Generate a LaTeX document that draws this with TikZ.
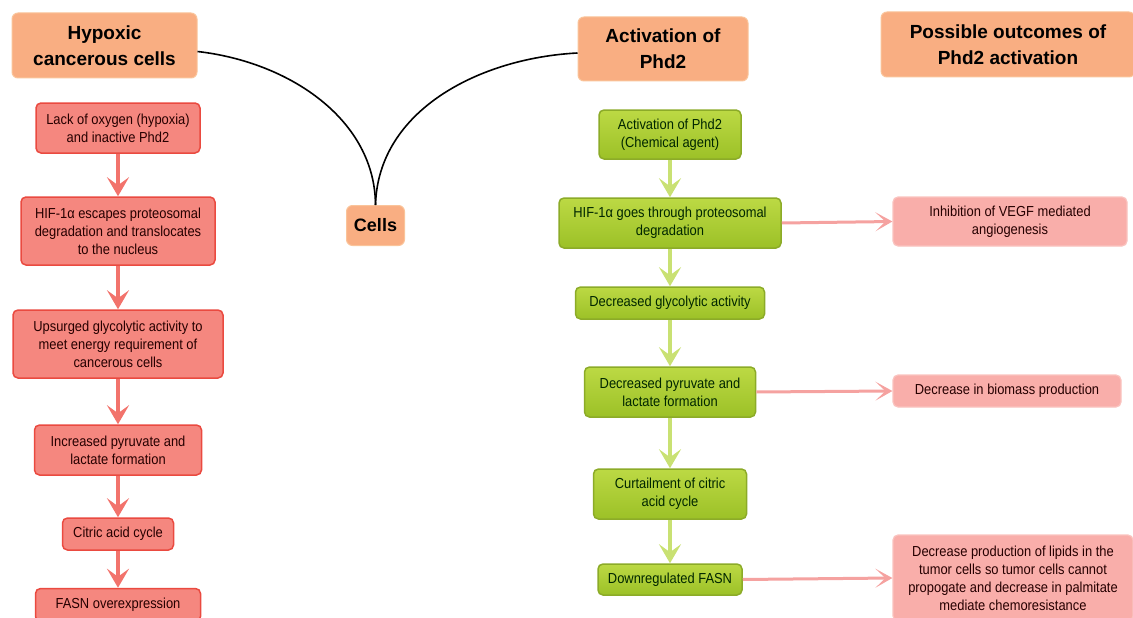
\documentclass[tikz,border=0pt]{standalone}
\usepackage{fontspec}
\setmainfont{Liberation Sans}
\newfontfamily\narrowsans{Liberation Sans}[FakeStretch=0.89]
\usetikzlibrary{arrows.meta}

\definecolor{headfill}{HTML}{F9AE82}
\definecolor{headline}{HTML}{FAC49A}
\definecolor{hypofill}{HTML}{F5877F}
\definecolor{hypoline}{HTML}{EA4A40}
\definecolor{hypoarrow}{HTML}{F2736C}
\definecolor{phdtop}{HTML}{BCD944}
\definecolor{phdbot}{HTML}{9CC127}
\definecolor{phdline}{HTML}{8CAB28}
\definecolor{phdarrow}{HTML}{C9E173}
\definecolor{outfill}{HTML}{F9AEAA}
\definecolor{outline}{HTML}{FAC3BF}
\definecolor{outarrow}{HTML}{F5A2A0}

\begin{document}
\begin{tikzpicture}[x=1pt, y=-1pt,
    every node/.style={align=center, inner sep=2pt},
    heading/.style={draw=headline, fill=headfill, rounded corners=6pt, line width=1pt,
        font=\fontsize{19}{26}\selectfont\bfseries},
    hypoxbox/.style={draw=hypoline, fill=hypofill, rounded corners=5pt, line width=1.5pt,
        text=black!85!red, font=\narrowsans\fontsize{14.5}{18}\selectfont},
    phdbox/.style={draw=phdline, top color=phdtop, bottom color=phdbot, rounded corners=5pt,
        line width=1.5pt, text=black!85!green, font=\narrowsans\fontsize{14.5}{18}\selectfont},
    outcome/.style={draw=outline, fill=outfill, rounded corners=5pt, line width=1.2pt,
        text=black!85!red, font=\narrowsans\fontsize{14.5}{18}\selectfont},
    hypoflow/.style={draw=hypoarrow, line width=4pt, -{Stealth[length=19pt, width=22pt, inset=8pt]}},
    phdflow/.style={draw=phdarrow, line width=4pt, -{Stealth[length=19pt, width=22pt, inset=8pt]}},
    outflow/.style={draw=outarrow, line width=3pt, -{Stealth[length=17pt, width=19pt, inset=10pt]}},
    branch/.style={draw=black, line width=1.6pt}
]
\useasboundingbox (0,0) rectangle (1133,618);

% headings
\node[heading, minimum width=185pt, minimum height=65pt] (hypoxic) at (104.5,45.5) {Hypoxic\\cancerous cells};
\node[heading, minimum width=170pt, minimum height=64pt] (activation) at (663,49) {Activation of\\Phd2};
\node[heading, minimum width=254pt, minimum height=65pt] (outcomes) at (1008,44.5) {Possible outcomes of\\Phd2 activation};
\node[heading, minimum width=58pt, minimum height=40pt, font=\fontsize{18}{22}\selectfont\bfseries] (cells) at (375.5,225.5) {Cells};

% hypoxic cells
\node[hypoxbox, minimum width=164pt, minimum height=50pt] (lack) at (118,128) {Lack of oxygen (hypoxia)\\and inactive Phd2};
\node[hypoxbox, minimum width=194pt, minimum height=68pt] (escape) at (118,231) {HIF-1α escapes proteosomal\\degradation and translocates\\to the nucleus};
\node[hypoxbox, minimum width=210pt, minimum height=68pt] (upsurge) at (118,344) {Upsurged glycolytic activity to\\meet energy requirement of\\cancerous cells};
\node[hypoxbox, minimum width=167pt, minimum height=50pt] (incpyr) at (118,450) {Increased pyruvate and\\lactate formation};
\node[hypoxbox, minimum width=111pt, minimum height=32pt] (citric) at (118,534) {Citric acid cycle};
\node[hypoxbox, minimum width=165pt, minimum height=33pt] (fasnup) at (118,605) {FASN overexpression};

% Phd2 activation
\node[phdbox, minimum width=142pt, minimum height=49pt] (agent) at (670,134.5) {Activation of Phd2\\(Chemical agent)};
\node[phdbox, minimum width=222pt, minimum height=50pt] (degrade) at (670,223) {HIF-1α goes through proteosomal\\degradation};
\node[phdbox, minimum width=189pt, minimum height=32pt] (glyco) at (670,303) {Decreased glycolytic activity};
\node[phdbox, minimum width=171pt, minimum height=50pt] (decpyr) at (670,392) {Decreased pyruvate and\\lactate formation};
\node[phdbox, minimum width=153pt, minimum height=50pt] (curtail) at (670,494) {Curtailment of citric\\acid cycle};
\node[phdbox, minimum width=144pt, minimum height=31pt] (fasndown) at (670,579.5) {Downregulated FASN};

% outcomes
\node[outcome, minimum width=234pt, minimum height=49pt] (vegf) at (1010,221.5) {Inhibition of VEGF mediated\\angiogenesis};
\node[outcome, minimum width=228pt, minimum height=32pt] (biomass) at (1007,391) {Decrease in biomass production};
\node[outcome, minimum width=240pt, minimum height=86pt] (lipids) at (1013,578) {Decrease production of lipids in the\\tumor cells so tumor cells cannot\\propogate and decrease in palmitate\\mediate chemoresistance};

% branches to cells
\draw[branch] ([yshift=-6pt]hypoxic.east) .. controls (290,62) and (375,120) .. (cells.north);
\draw[branch] ([yshift=-4pt]activation.west) .. controls (480,58) and (378,110) .. (cells.north);

\draw[hypoflow] (lack) -- (escape);
\draw[hypoflow] (escape) -- (upsurge);
\draw[hypoflow] (upsurge) -- (incpyr);
\draw[hypoflow] (incpyr) -- (citric);
\draw[hypoflow] (citric) -- (fasnup);

\draw[phdflow] (agent) -- (degrade);
\draw[phdflow] (degrade) -- (glyco);
\draw[phdflow] (glyco) -- (decpyr);
\draw[phdflow] (decpyr) -- (curtail);
\draw[phdflow] (curtail) -- (fasndown);

\draw[outflow] (degrade.east) -- (vegf.west);
\draw[outflow] (decpyr.east) -- (biomass.west);
\draw[outflow] (fasndown.east) -- (lipids.west);
\end{tikzpicture}
\end{document}
